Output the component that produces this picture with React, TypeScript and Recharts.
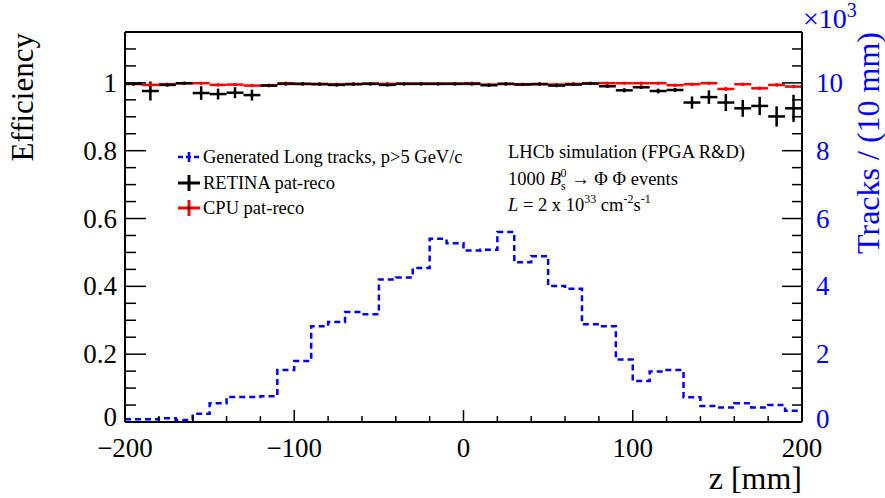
import React from 'react';
import { ComposedChart, Line, Scatter, ErrorBar, XAxis, YAxis } from 'recharts';

// bin centres of the 10 mm z bins
const BIN_CENTERS = [
  -195, -185, -175, -165, -155, -145, -135, -125, -115, -105,
  -95, -85, -75, -65, -55, -45, -35, -25, -15, -5,
  5, 15, 25, 35, 45, 55, 65, 75, 85, 95,
  105, 115, 125, 135, 145, 155, 165, 175, 185, 195,
];
const BIN_EDGES = [
  -200, -190, -180, -170, -160, -150, -140, -130, -120, -110,
  -100, -90, -80, -70, -60, -50, -40, -30, -20, -10,
  0, 10, 20, 30, 40, 50, 60, 70, 80, 90,
  100, 110, 120, 130, 140, 150, 160, 170, 180, 190, 200,
];

// generated long tracks per bin (x10^3)
const GENERATED = [
  0.08, 0.08, 0.11, 0.06, 0.24, 0.55, 0.74, 0.74, 0.76, 1.53,
  1.80, 2.82, 2.95, 3.24, 3.18, 4.20, 4.26, 4.54, 5.40, 5.27,
  5.06, 5.08, 5.60, 4.71, 4.89, 4.01, 3.93, 2.88, 2.82, 1.84,
  1.21, 1.49, 1.53, 0.73, 0.47, 0.43, 0.55, 0.43, 0.50, 0.33,
];

const RETINA_EFF = [
  0.997, 0.976, 0.994, 0.999, 0.970, 0.967, 0.971, 0.964, 0.992, 0.997,
  0.997, 0.996, 0.994, 0.996, 0.997, 0.994, 0.997, 0.997, 0.997, 0.997,
  0.997, 0.993, 0.997, 0.995, 0.996, 0.992, 0.995, 0.998, 0.990, 0.978,
  0.987, 0.976, 0.979, 0.942, 0.958, 0.942, 0.925, 0.932, 0.901, 0.925,
];
const RETINA_ERR = [
  0.003, 0.028, 0.004, 0.002, 0.020, 0.016, 0.016, 0.016, 0.004, 0.002,
  0.002, 0.002, 0.002, 0.002, 0.002, 0.002, 0.002, 0.002, 0.002, 0.002,
  0.002, 0.002, 0.002, 0.002, 0.002, 0.003, 0.002, 0.002, 0.004, 0.006,
  0.005, 0.007, 0.006, 0.018, 0.020, 0.025, 0.025, 0.027, 0.030, 0.040,
];

const CPU_EFF = [
  0.997, 0.994, 0.996, 0.999, 0.999, 0.994, 0.995, 0.992, 0.993, 0.999,
  0.997, 0.997, 0.996, 0.997, 0.998, 0.997, 0.998, 0.998, 0.998, 0.998,
  0.999, 0.995, 0.997, 0.996, 0.997, 0.995, 0.997, 0.999, 0.999, 0.999,
  0.999, 0.999, 0.993, 0.996, 0.999, 0.982, 0.996, 0.984, 0.994, 0.989,
];
const CPU_ERR = [
  0.002, 0.002, 0.002, 0.002, 0.002, 0.002, 0.002, 0.002, 0.002, 0.002,
  0.002, 0.002, 0.002, 0.002, 0.002, 0.002, 0.002, 0.002, 0.002, 0.002,
  0.002, 0.002, 0.002, 0.002, 0.002, 0.002, 0.002, 0.002, 0.002, 0.002,
  0.002, 0.002, 0.003, 0.002, 0.002, 0.005, 0.003, 0.005, 0.003, 0.004,
];

const HALF_BIN = 5;

const Z_TICKS = [-200, -180, -160, -140, -120, -100, -80, -60, -40, -20, 0, 20, 40, 60, 80, 100, 120, 140, 160, 180, 200];
const Z_LABELS: Record<number, string> = { [-200]: '\u2212200', [-100]: '\u2212100', 0: '0', 100: '100', 200: '200' };
const EFF_TICKS = [0, 0.05, 0.1, 0.15, 0.2, 0.25, 0.3, 0.35, 0.4, 0.45, 0.5, 0.55, 0.6, 0.65, 0.7, 0.75, 0.8, 0.85, 0.9, 0.95, 1, 1.05, 1.1];
const EFF_LABELS: Record<string, string> = { '0': '0', '0.2': '0.2', '0.4': '0.4', '0.6': '0.6', '0.8': '0.8', '1': '1' };
const TRK_TICKS = [0, 0.5, 1, 1.5, 2, 2.5, 3, 3.5, 4, 4.5, 5, 5.5, 6, 6.5, 7, 7.5, 8, 8.5, 9, 9.5, 10, 10.5, 11];
const TRK_LABELS: Record<string, string> = { '0': '0', '2': '2', '4': '4', '6': '6', '8': '8', '10': '10' };

const histData = BIN_EDGES.map((z, i) => ({ z, n: GENERATED[Math.min(i, GENERATED.length - 1)] }));
const retinaData = BIN_CENTERS.map((z, i) => ({ z, eff: RETINA_EFF[i], ex: HALF_BIN, ey: RETINA_ERR[i] }));
const cpuData = BIN_CENTERS.map((z, i) => ({ z, eff: CPU_EFF[i], ex: HALF_BIN, ey: CPU_ERR[i] }));

const FONT = "'Liberation Serif', 'DejaVu Serif', serif";
const BLUE = '#0000ff';
const RED = '#ff0000';

const BottomTick = (props: any) => {
  const { x, y, payload } = props;
  const label = Z_LABELS[payload.value];
  const len = label !== undefined ? 12 : 6;
  return (
    <g>
      <line x1={x} x2={x} y1={y} y2={y - len} stroke="#000" strokeWidth={1.5} />
      {label !== undefined && (
        <text x={x} y={y + 35} textAnchor="middle" fontSize={27} fontFamily={FONT} fill="#000">{label}</text>
      )}
    </g>
  );
};

const TopTick = (props: any) => {
  const { x, y, payload } = props;
  const major = Z_LABELS[payload.value] !== undefined;
  return <line x1={x} x2={x} y1={y} y2={y + (major ? 12 : 6)} stroke="#000" strokeWidth={1.5} />;
};

const LeftTick = (props: any) => {
  const { x, y, payload } = props;
  const label = EFF_LABELS[String(payload.value)];
  return (
    <g>
      <line x1={x} x2={x + (label !== undefined ? 21 : 11)} y1={y} y2={y} stroke="#000" strokeWidth={1.5} />
      {label !== undefined && (
        <text x={x - 8} y={y + (payload.value === 0 ? 4 : 9)} textAnchor="end" fontSize={27} fontFamily={FONT} fill="#000">{label}</text>
      )}
    </g>
  );
};

const RightTick = (props: any) => {
  const { x, y, payload } = props;
  const label = TRK_LABELS[String(payload.value)];
  return (
    <g>
      <line x1={x} x2={x - (label !== undefined ? 20 : 10)} y1={y} y2={y} stroke="#000" strokeWidth={1.5} />
      {label !== undefined && (
        <text x={x + 14} y={y + (payload.value === 0 ? 6 : 9)} textAnchor="start" fontSize={27} fontFamily={FONT} fill={BLUE}>{label}</text>
      )}
    </g>
  );
};

const dot = (color: string) => (p: any) => <circle cx={p.cx} cy={p.cy} r={1.8} fill={color} />;

const Cross = ({ x, y, color, center }: { x: number; y: number; color: string; center?: boolean }) => (
  <g>
    <line x1={x - 11} x2={x + 11} y1={y} y2={y} stroke={color} strokeWidth={3} />
    <line x1={x} x2={x} y1={y - 8} y2={y + 8} stroke={color} strokeWidth={3} />
    {center && <circle cx={x} cy={y} r={1.5} fill="#000" />}
  </g>
);

const App: React.FC = () => {
  return (
    <div style={{ position: 'absolute', left: 0, top: 0, width: 885, height: 498, background: '#fff' }}>
      <ComposedChart width={885} height={498} margin={{ top: 2, right: 0, bottom: 0, left: 0 }}>
        <XAxis
          xAxisId="z"
          dataKey="z"
          type="number"
          domain={[-200, 200]}
          allowDataOverflow
          ticks={Z_TICKS}
          interval={0}
          height={76}
          tickSize={0}
          tickMargin={0}
          tick={<BottomTick />}
          axisLine={{ stroke: '#000', strokeWidth: 2 }}
        />
        <XAxis
          xAxisId="top"
          orientation="top"
          type="number"
          domain={[-200, 200]}
          allowDataOverflow
          ticks={Z_TICKS}
          interval={0}
          height={30}
          tickSize={0}
          tickMargin={0}
          tick={<TopTick />}
          axisLine={{ stroke: '#000', strokeWidth: 2 }}
        />
        <YAxis
          yAxisId="eff"
          dataKey="eff"
          type="number"
          domain={[0, 1.15]}
          allowDataOverflow
          ticks={EFF_TICKS}
          interval={0}
          width={125}
          tickSize={0}
          tickMargin={0}
          tick={<LeftTick />}
          axisLine={{ stroke: '#000', strokeWidth: 2 }}
        />
        <YAxis
          yAxisId="trk"
          dataKey="n"
          orientation="right"
          type="number"
          domain={[0, 11.5]}
          allowDataOverflow
          ticks={TRK_TICKS}
          interval={0}
          width={83}
          tickSize={0}
          tickMargin={0}
          tick={<RightTick />}
          axisLine={{ stroke: '#000', strokeWidth: 2 }}
        />
        <Line
          xAxisId="z"
          yAxisId="trk"
          data={histData}
          dataKey="n"
          type="stepAfter"
          stroke={BLUE}
          strokeWidth={2.5}
          strokeDasharray="6 4"
          dot={false}
          isAnimationActive={false}
        />
        <Scatter
          xAxisId="z"
          yAxisId="eff"
          data={cpuData}
          dataKey="eff"
          shape={dot(RED)}
          isAnimationActive={false}
        >
          <ErrorBar dataKey="ex" direction="x" width={0} stroke={RED} strokeWidth={2.5} isAnimationActive={false} />
          <ErrorBar dataKey="ey" direction="y" width={0} stroke={RED} strokeWidth={2.5} isAnimationActive={false} />
        </Scatter>
        <Scatter
          xAxisId="z"
          yAxisId="eff"
          data={retinaData}
          dataKey="eff"
          shape={dot('#000')}
          isAnimationActive={false}
        >
          <ErrorBar dataKey="ex" direction="x" width={0} stroke="#000" strokeWidth={2.5} isAnimationActive={false} />
          <ErrorBar dataKey="ey" direction="y" width={0} stroke="#000" strokeWidth={2.5} isAnimationActive={false} />
        </Scatter>
      </ComposedChart>

      <svg
        width={885}
        height={498}
        style={{ position: 'absolute', left: 0, top: 0, pointerEvents: 'none' }}
        fontFamily={FONT}
      >
        {/* axis titles */}
        <text transform="translate(33,33) rotate(-90)" textAnchor="end" fontSize={31} fill="#000">Efficiency</text>
        <text transform="translate(879,32) rotate(-90)" textAnchor="end" fontSize={32} fill={BLUE}>Tracks / (10 mm)</text>
        <text x={802} y={489} textAnchor="end" fontSize={32} fill="#000">z [mm]</text>
        <text x={803} y={28} fontSize={28} fill={BLUE}>
          ×10<tspan dy={-11} fontSize={20}>3</tspan>
        </text>

        {/* legend */}
        <line x1={178} x2={200} y1={157} y2={157} stroke={BLUE} strokeWidth={2.5} strokeDasharray="5 3" />
        <line x1={189} x2={189} y1={152} y2={162} stroke={BLUE} strokeWidth={2.5} />
        <text x={203} y={163} fontSize={18.5} fill="#000">Generated Long tracks, p&gt;5 GeV/c</text>
        <Cross x={189} y={183} color="#000" />
        <text x={203} y={189} fontSize={18.5} fill="#000">RETINA pat-reco</text>
        <Cross x={189} y={208} color={RED} center />
        <text x={203} y={214} fontSize={18.5} fill="#000">CPU pat-reco</text>

        {/* annotation */}
        <text x={508} y={158} fontSize={18.5} fill="#000">LHCb simulation (FPGA R&amp;D)</text>
        <text x={508} y={185} fontSize={18.5} fill="#000">
          1000 <tspan fontStyle="italic">B</tspan>
          <tspan fontSize={12} dy={5}>s</tspan>
          <tspan fontSize={12} dx={-5} dy={-13}>0</tspan>
          <tspan dy={8}> {'\u2192'} {'\u03A6'} {'\u03A6'} events</tspan>
        </text>
        <text x={508} y={211} fontSize={18.5} fill="#000">
          <tspan fontStyle="italic">L</tspan> = 2 x 10
          <tspan fontSize={12} dy={-8}>33</tspan>
          <tspan dy={8}> cm</tspan>
          <tspan fontSize={12} dy={-8}>-2</tspan>
          <tspan dy={8}>s</tspan>
          <tspan fontSize={12} dy={-8}>-1</tspan>
        </text>
      </svg>
    </div>
  );
};

export default App;
